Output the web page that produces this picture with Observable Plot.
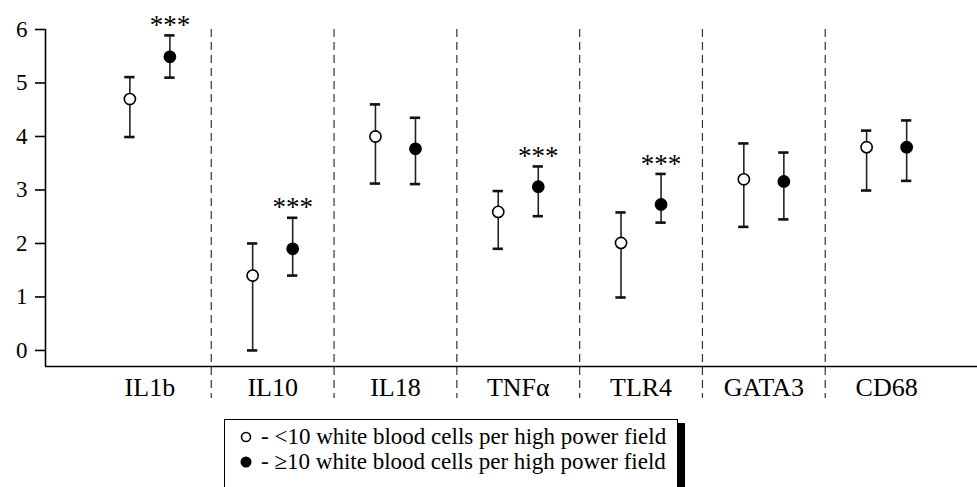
<!DOCTYPE html>
<html>
<head>
<meta charset="utf-8">
<script src="https://cdn.jsdelivr.net/npm/d3@7"></script>
<script src="https://cdn.jsdelivr.net/npm/@observablehq/plot@0.6"></script>
<style>
  body { margin: 0; background: #fff; font-family: "Liberation Serif", "Times New Roman", serif; }
  #wrap { position: relative; width: 977px; height: 487px; overflow: hidden; }
  #legend {
    position: absolute; left: 224px; top: 419px; width: 452px; height: 90px;
    border: 1px solid #000; background: #fff; box-shadow: 7px 4px 0 #000;
    font-size: 23px; color: #000;
  }
  .row { position: absolute; left: 14px; display: flex; align-items: center; white-space: nowrap; }
  .row svg { margin-right: 8px; }
</style>
</head>
<body>
<div id="wrap">
  <div id="chart"></div>
  <div id="legend">
    <div class="row" style="top:4px"><svg width="14" height="14"><circle cx="7" cy="7" r="4.5" fill="#fff" stroke="#000" stroke-width="1.6"/></svg><span>- &lt;10 white blood cells per high power field</span></div>
    <div class="row" style="top:29px"><svg width="14" height="14"><circle cx="7" cy="7" r="5.5" fill="#000"/></svg><span>- &ge;10 white blood cells per high power field</span></div>
  </div>
</div>
<script>
const categories = ["IL1b", "IL10", "IL18", "TNFα", "TLR4", "GATA3", "CD68"];
const lowMean  = [4.70, 1.40, 4.00, 2.59, 2.01, 3.20, 3.80];
const lowUpper = [5.11, 2.00, 4.60, 2.98, 2.58, 3.87, 4.11];
const lowLower = [3.99, 0.00, 3.12, 1.90, 0.99, 2.31, 2.99];
const highMean  = [5.49, 1.90, 3.77, 3.06, 2.73, 3.16, 3.80];
const highUpper = [5.89, 2.48, 4.35, 3.44, 3.30, 3.70, 4.30];
const highLower = [5.10, 1.40, 3.11, 2.51, 2.39, 2.45, 3.17];
const significance = ["***", "***", "", "***", "***", "", ""];
const yTicks = [0, 1, 2, 3, 4, 5, 6];

const offset = 0.163;   // half distance between the two groups, in category units
const cap = 0.042;      // half width of error-bar caps, in category units

const rows = [];
categories.forEach((c, i) => {
  rows.push({i, x: i - offset, group: "low", mean: lowMean[i], lo: lowLower[i], hi: lowUpper[i]});
  rows.push({i, x: i + offset, group: "high", mean: highMean[i], lo: highLower[i], hi: highUpper[i]});
});
const stars = categories.map((c, i) => ({x: i + offset, y: highUpper[i], t: significance[i]})).filter(d => d.t);
const dividers = categories.slice(1).map((c, i) => i + 0.5);

const chart = Plot.plot({
  width: 977,
  height: 410,
  marginLeft: 45,
  marginRight: 0,
  marginTop: 29,
  marginBottom: 44,
  style: {fontFamily: "Liberation Serif, Times New Roman, serif", color: "#000", background: "#fff", overflow: "visible"},
  x: {domain: [-0.85, 6.74], axis: null},
  y: {domain: [-0.3, 6], axis: null},
  marks: [
    Plot.ruleX(dividers, {x: d => d, stroke: "#333", strokeWidth: 1.2, strokeDasharray: "8,5", insetBottom: -32}),
    Plot.ruleY([-0.3], {stroke: "#000", strokeWidth: 1.6}),
    Plot.ruleX([-0.85], {y1: -0.3, y2: 6, stroke: "#000", strokeWidth: 1.6}),
    Plot.axisY({ticks: yTicks, tickSize: 10, tickPadding: 8, fontSize: 23, stroke: "#000", strokeWidth: 1.6, tickFormat: d => d, label: null}),
    Plot.axisX({ticks: d3.range(categories.length), tickSize: 0, tickPadding: 11, fontSize: 26, tickFormat: i => categories[i], label: null}),
    Plot.ruleX(rows, {x: "x", y1: "lo", y2: "hi", stroke: "#222", strokeWidth: 1.6}),
    Plot.ruleY(rows, {y: "hi", x1: d => d.x - cap, x2: d => d.x + cap, stroke: "#111", strokeWidth: 2.6}),
    Plot.ruleY(rows, {y: "lo", x1: d => d.x - cap, x2: d => d.x + cap, stroke: "#111", strokeWidth: 2.6}),
    Plot.dot(rows, {x: "x", y: "mean", r: 5.6, fill: d => d.group === "low" ? "#fff" : "#000", stroke: "#000", strokeWidth: 1.6}),
    Plot.text(stars, {x: "x", y: "y", text: "t", fontSize: 27, dy: -10, fill: "#000", letterSpacing: "1px"})
  ]
});
document.getElementById("chart").appendChild(chart);
</script>
</body>
</html>
